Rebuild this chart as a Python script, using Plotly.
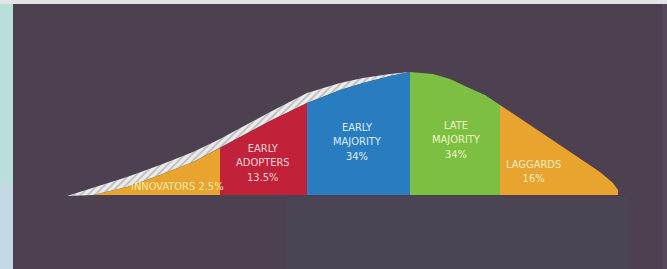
import plotly.graph_objects as go

# ---- data (pixel-like units; y grows downward) ----
segment_names = ["INNOVATORS 2.5%", "EARLY<br>ADOPTERS<br>13.5%", "EARLY<br>MAJORITY<br>34%",
                 "LATE<br>MAJORITY<br>34%", "LAGGARDS<br>16%"]
segment_bounds = [93, 220, 307, 410, 500, 618]          # x where each segment starts/ends
baseline = 195

# top of the coloured fill
curve_x = [93, 127, 160, 193, 220, 240, 270, 307, 340, 363, 390, 410,
           433, 450, 467, 485, 500, 533, 567, 600, 613, 618]
curve_y = [195, 187, 175, 162, 148, 137, 121, 103, 90, 83, 76, 72,
           74, 79, 87, 95, 105, 127, 150, 172, 183, 190]

# top of the hatched band on the rising side
band_x = [67, 80, 100, 127, 160, 193, 220, 240, 270, 307, 340, 363, 390, 410]
band_y = [196, 192, 186, 177, 165, 152, 139, 128, 112, 93, 83, 78, 74, 72]

label_x = [177, 263, 357, 456, 533]
label_y = [186, 163, 142, 140, 171]

# ---- styles ----
seg_colors = ["#e8a42f", "#c2213a", "#2a7cc0", "#7dbf43", "#e8a42f"]
txt_colors = ["#f7e9a8", "#f6d3d8", "#dcedf8", "#eef5c6", "#faecc4"]
BG = "#4d4151"
FONT = "Liberation Sans Narrow, DejaVu Sans Condensed, Roboto, sans-serif"

fig = go.Figure()

# hatched band
ipk = curve_x.index(410)
bx = band_x + curve_x[:ipk + 1][::-1] + [93, band_x[0]]
by = band_y + curve_y[:ipk + 1][::-1] + [baseline, band_y[0]]
fig.add_trace(go.Scatter(
    x=bx, y=by, mode="lines", fill="toself",
    line=dict(width=0, color="#dddddd"),
    fillcolor="#e9e9ea",
    fillpattern=dict(shape="/", fgcolor="#8f8f96", bgcolor="#ececec", size=5, solidity=0.35),
    hoverinfo="skip", showlegend=False))

# coloured segments
for i in range(5):
    a, b = segment_bounds[i], segment_bounds[i + 1]
    xs = [x for x in curve_x if a <= x <= b]
    ys = [curve_y[curve_x.index(x)] for x in xs]
    px = [a] + xs + [b, a]
    py = [baseline] + ys + [baseline, baseline]
    fig.add_trace(go.Scatter(
        x=px, y=py, mode="lines", fill="toself",
        line=dict(width=0, color=seg_colors[i]), fillcolor=seg_colors[i],
        hoverinfo="skip", showlegend=False))

for i, name in enumerate(segment_names):
    fig.add_annotation(x=label_x[i], y=label_y[i], xref="x", yref="y",
                       text=name, showarrow=False,
                       font=dict(family=FONT, size=11, color=txt_colors[i]))

shapes = [
    dict(type="rect", xref="x", yref="y", x0=287, x1=628, y0=197, y1=269,
         fillcolor="#4b4454", line_width=0, layer="below"),
    dict(type="rect", xref="x", yref="y", x0=0, x1=13, y0=0, y1=182,
         fillcolor="#b8dfd9", line_width=0, layer="below"),
    dict(type="rect", xref="x", yref="y", x0=0, x1=13, y0=182, y1=269,
         fillcolor="#c5d8e6", line_width=0, layer="below"),
    dict(type="rect", xref="x", yref="y", x0=0, x1=667, y0=0, y1=4,
         fillcolor="#e4e4e4", line_width=0, layer="below"),
    dict(type="rect", xref="x", yref="y", x0=662, x1=667, y0=4, y1=269,
         fillcolor="#54485a", line_width=0, layer="below"),
]

fig.update_layout(
    width=667, height=269, margin=dict(l=0, r=0, t=0, b=0),
    paper_bgcolor=BG, plot_bgcolor=BG, shapes=shapes,
    xaxis=dict(range=[0, 667], visible=False, fixedrange=True),
    yaxis=dict(range=[269, 0], visible=False, fixedrange=True),
    showlegend=False,
)

fig.write_html("out.html", config={"displayModeBar": False},
               post_script="document.body.style.margin='0';document.body.style.padding='0';"
                           "document.body.style.overflow='hidden';")
